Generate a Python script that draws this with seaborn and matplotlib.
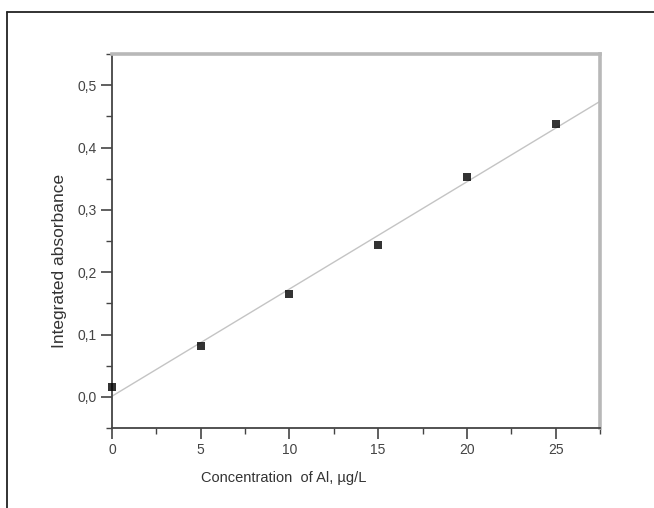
import numpy as np
import pandas as pd
import matplotlib
matplotlib.use("Agg")
import matplotlib.pyplot as plt
from matplotlib.ticker import MultipleLocator, FuncFormatter
from matplotlib.lines import Line2D
import seaborn as sns

# Calibration data: Al concentration vs integrated absorbance
concentration = [0, 5, 10, 15, 20, 25]
absorbance = [0.015, 0.081, 0.165, 0.244, 0.353, 0.438]

x_label = "Concentration  of Al, \u00b5g/L"
y_label = "Integrated absorbance"

sns.set_style("ticks")
plt.rcParams["font.family"] = ["Liberation Sans", "DejaVu Sans"]

df = pd.DataFrame({"conc": concentration, "abs": absorbance})

fig = plt.figure(figsize=(6.54, 5.08), dpi=100)
ax = fig.add_axes([112 / 654, 1 - 428 / 508, 488 / 654, 374 / 508])
ax.set_xlim(0, 27.5)
ax.set_ylim(-0.05, 0.55)

sns.regplot(data=df, x="conc", y="abs", ax=ax, ci=None, truncate=False,
            marker="s",
            scatter_kws={"s": 26, "color": "black", "clip_on": False, "zorder": 3,
                         "linewidths": 0},
            line_kws={"color": "#c4c4c4", "lw": 1.0, "zorder": 2})

ax.set_xlim(0, 27.5)
ax.set_ylim(-0.05, 0.55)

ax.xaxis.set_major_locator(MultipleLocator(5))
ax.xaxis.set_minor_locator(MultipleLocator(2.5))
ax.yaxis.set_major_locator(MultipleLocator(0.1))
ax.yaxis.set_minor_locator(MultipleLocator(0.05))
ax.yaxis.set_major_formatter(FuncFormatter(lambda v, p: f"{v:.1f}".replace(".", ",").replace("-0,0", "0,0")))
ax.xaxis.set_major_formatter(FuncFormatter(lambda v, p: f"{v:.0f}"))

ax.tick_params(which="major", direction="out", length=8, width=1.2, color="#444444",
               labelsize=10, labelcolor="#444444", pad=3)
ax.tick_params(which="minor", direction="out", length=4, width=1.0, color="#444444")

for side in ("left", "bottom"):
    ax.spines[side].set_color("#444444")
    ax.spines[side].set_linewidth(1.3)
for side in ("top", "right"):
    ax.spines[side].set_visible(True)
    ax.spines[side].set_color("#b8b8b8")
    ax.spines[side].set_linewidth(2.6)

ax.set_xlabel(x_label, fontsize=10.5, color="#333333")
ax.set_ylabel(y_label, fontsize=12.5, color="#333333")
ax.xaxis.set_label_coords(0.352, -0.134)
ax.xaxis.label.set_va("center")
ax.yaxis.set_label_coords(-0.107, 0.447)
ax.yaxis.label.set_va("center")

# outer frame around the figure (left and top edges)
fig.add_artist(Line2D([7 / 654, 7 / 654], [0, 1 - 12 / 508], transform=fig.transFigure,
                      color="#222222", lw=1.3))
fig.add_artist(Line2D([7 / 654, 1], [1 - 12 / 508, 1 - 12 / 508], transform=fig.transFigure,
                      color="#222222", lw=1.3))

fig.savefig("out.png", dpi=100)
